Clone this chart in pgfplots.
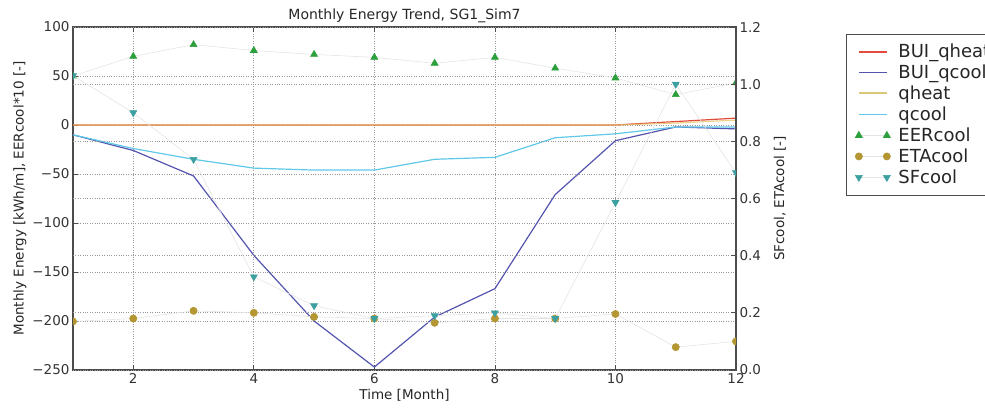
\documentclass[border=0pt]{standalone}
\usepackage{pgfplots}
\pgfplotsset{compat=1.18}
\usepackage{fontspec}
\setmainfont{DejaVu Sans}
\definecolor{cRed}{RGB}{226,74,60}
\definecolor{cBlue}{RGB}{84,84,176}
\definecolor{cYel}{RGB}{228,196,100}
\definecolor{cYelL}{RGB}{218,200,120}
\definecolor{cCyan}{RGB}{96,200,232}
\definecolor{cGreen}{RGB}{44,160,60}
\definecolor{cOlive}{RGB}{180,150,50}
\definecolor{cTeal}{RGB}{60,160,160}
\definecolor{cFaint}{RGB}{228,228,228}

\pgfplotstableread{
x bqheat bqcool qheat qcool eer
1 0 -10 0 -10 50
2 0 -26 0 -24 70
3 0 -52 0 -35 82
4 0 -133 0 -44 76
5 0 -200 0 -46 72
6 0 -247 0 -46 69
7 0 -196 0 -35 63
8 0 -167 0 -33 69
9 0 -71 0 -13 58
10 0 -16 0 -9 48
11 3.5 -2 2 -2 31
12 7 -4 5 -2 43
}\lefttab
\pgfplotstableread{
x eta sf
1 0.17 1.03
2 0.18 0.90
3 0.207 0.737
4 0.20 0.326
5 0.186 0.225
6 0.18 0.18
7 0.165 0.19
8 0.18 0.20
9 0.18 0.18
10 0.196 0.586
11 0.08 1.0
12 0.10 0.69
}\righttab

\pgfplotsset{
  every axis/.append style={
    scale only axis, width=663pt, height=343pt,
    xmin=1, xmax=12,
    axis line style={black!70, line width=1.1pt},
    tick style={black!70, line width=0.8pt},
    major tick length=5pt, tick align=inside,
    tick label style={font=\fontsize{13.5}{15}\selectfont, black!80},
    label style={font=\fontsize{13.5}{15}\selectfont, black!85},
    grid style={dotted, black!40, line width=0.7pt},
    clip marker paths=true,
  },
}

\begin{document}
\begin{tikzpicture}[x=1pt,y=1pt]
\useasboundingbox (0,0) rectangle (985,412);
\clip (0,0) rectangle (985,412);
\begin{axis}[
  at={(73pt,42pt)}, anchor=south west,
  ymin=-250, ymax=100,
  xtick={2,4,6,8,10,12}, xticklabels={2,4,6,8,10,12},
  ytick={-250,-200,-150,-100,-50,0,50,100},
  yticklabels={−250,−200,−150,−100,−50,0,50,100},
  xtick pos=both, ytick pos=left,
  grid=major,
  title={Monthly Energy Trend, SG1\_Sim7},
  title style={font=\fontsize{14}{16}\selectfont, black!85, yshift=-5pt},
  xlabel={Time [Month]},
  ylabel={Monthly Energy [kWh/m], EERcool*10 [-]},
  xlabel style={yshift=1pt},
  ylabel style={yshift=-1pt},
  legend style={at={(1.166,0.98)}, anchor=north west,
    font=\fontsize{18}{20}\selectfont, draw=black!70,
    fill=white, row sep=0pt, inner xsep=9pt, inner ysep=7pt,
    nodes={inner ysep=2.9pt, inner xsep=3pt, text=black!85},
    /tikz/every odd column/.append style={column sep=5pt}},
  legend cell align=left,
  legend image code/.code={\draw[#1] plot coordinates {(0pt,0pt) (28pt,0pt)};},
]
\addplot[cRed, line width=1.2pt, forget plot] table[x=x, y=bqheat] {\lefttab};
\addplot[cBlue, line width=1.2pt, forget plot] table[x=x, y=bqcool] {\lefttab};
\addplot[cYel, line width=1.2pt, opacity=0.75, forget plot] table[x=x, y=qheat] {\lefttab};
\addplot[cCyan, line width=1.2pt, forget plot] table[x=x, y=qcool] {\lefttab};
\addplot[cFaint, line width=0.6pt, mark=triangle*, mark size=4pt,
  mark options={draw=cGreen, fill=cGreen}, forget plot] table[x=x, y=eer] {\lefttab};
\addlegendimage{color=cRed, line width=2pt}
\addlegendentry{BUI\_qheat}
\addlegendimage{color=cBlue, line width=1.7pt}
\addlegendentry{BUI\_qcool}
\addlegendimage{color=cYelL, line width=2pt}
\addlegendentry{qheat}
\addlegendimage{color=cCyan, line width=1.7pt}
\addlegendentry{qcool}
\addlegendimage{draw=cFaint, line width=0.6pt, mark=triangle*, mark size=4pt, mark options={draw=cGreen, fill=cGreen}}
\addlegendentry{EERcool}
\addlegendimage{draw=cFaint, line width=0.6pt, mark=*, mark size=3.6pt, mark options={draw=cOlive, fill=cOlive}}
\addlegendentry{ETAcool}
\addlegendimage{draw=cFaint, line width=0.6pt, mark=triangle*, mark size=4pt, mark options={draw=cTeal, fill=cTeal, rotate=180}}
\addlegendentry{SFcool}
\end{axis}
\begin{axis}[
  at={(73pt,42pt)}, anchor=south west,
  ymin=0, ymax=1.2,
  axis y line*=right, axis x line=none,
  ytick={0,0.2,0.4,0.6,0.8,1.0,1.2},
  yticklabels={0.0,0.2,0.4,0.6,0.8,1.0,1.2},
  ymajorgrids,
  ylabel={SFcool, ETAcool [-]},
  ylabel style={yshift=-6pt},
]
\addplot[cFaint, line width=0.6pt, mark=*, mark size=3.6pt,
  mark options={draw=cOlive, fill=cOlive}] table[x=x, y=eta] {\righttab};
\addplot[cFaint, line width=0.6pt, mark=triangle*, mark size=4pt,
  mark options={draw=cTeal, fill=cTeal, rotate=180}] table[x=x, y=sf] {\righttab};
\end{axis}
\end{tikzpicture}
\end{document}
